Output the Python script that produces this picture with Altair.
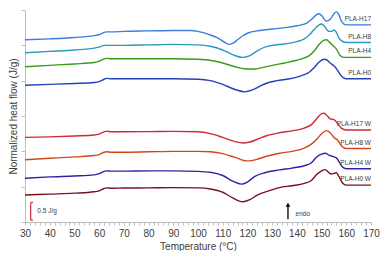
import altair as alt
import pandas as pd

# Heat-flow readings (arbitrary units, 38 units = 1 J/g) vs temperature (°C)
names = ["PLA-H17", "PLA-H8", "PLA-H4", "PLA-H0",
         "PLA-H17 W", "PLA-H8 W", "PLA-H4 W", "PLA-H0 W"]
colors = ["#3b7de0", "#2a9bbf", "#3a9a1a", "#2441b5",
          "#d02a3a", "#d4461c", "#3020a8", "#7a1020"]

t_h17 = [30, 40, 50, 58, 60, 62, 63, 65, 70, 80, 90, 97, 100, 104, 108, 111, 112.5, 114, 116, 118, 120, 125, 130, 135, 140, 144, 146, 148, 149, 150, 152, 153.5, 155, 156, 157, 158, 159, 160, 165, 170]
h_h17 = [196, 197, 198.5, 200.5, 201.5, 204, 204.5, 204.5, 205, 205.5, 206, 206, 205, 202, 198, 193, 191, 192, 196, 200, 203, 206, 207.5, 209, 211, 214, 218, 223, 224, 222, 216, 218, 224, 226, 223, 216, 213, 212, 212, 212]

t_h8 = [30, 40, 50, 58, 60, 62, 64, 70, 80, 90, 100, 105, 110, 114, 118, 121, 124, 127, 130, 135, 140, 143, 145, 147, 149, 150, 151, 153, 154, 155, 156, 157, 158, 160, 165, 170]
h_h8 = [182, 183.5, 185, 187, 188, 190, 190, 190, 190.5, 191, 190.5, 189, 185, 180, 177, 179, 184, 188, 190, 191.5, 194, 197, 201, 207, 212, 213, 211, 205, 205, 206.5, 204, 198, 195, 193, 193, 193]

t_h4 = [30, 40, 50, 58, 60, 62, 63, 65, 70, 80, 90, 100, 105, 110, 115, 120, 123, 126, 130, 135, 140, 143, 145, 147, 149, 151, 152, 153, 154.5, 156, 157.5, 159, 170]
h_h4 = [167, 168.5, 170, 171.5, 173, 175.5, 176, 175.5, 175.5, 175.5, 175.5, 175, 174, 171, 167, 164.5, 164.5, 166, 168.5, 171, 174, 176.5, 179, 184, 191, 195.5, 196, 194, 190, 186, 179, 177, 177]

t_h0 = [30, 40, 50, 58, 60, 62, 63, 65, 70, 80, 90, 100, 105, 110, 115, 119, 122, 125, 128, 132, 137, 142, 145, 147, 149, 151, 152, 153.5, 155, 156.5, 158, 160, 170]
h_h0 = [147, 148, 149, 150, 151, 153.5, 154.5, 154, 154, 154, 154, 153.5, 152, 148, 142.5, 140, 142, 146, 149.5, 152, 154, 157.5, 161, 166, 172, 175, 174.5, 171, 168, 163, 157, 154, 154]

t_h17w = [30, 40, 50, 58, 60, 62, 63, 65, 70, 80, 90, 100, 105, 110, 115, 118, 121, 124, 128, 133, 138, 143, 146, 148, 150, 151, 152, 153.5, 155, 156.5, 158, 160, 170]
h_h17w = [91, 91.5, 92.5, 93.5, 94.5, 97, 97.7, 97, 97, 97.2, 97.5, 97, 95, 91, 86.5, 85, 86, 89, 93, 96, 98, 101, 105, 111, 116.5, 117, 115, 111, 110, 106, 101, 99, 99]

t_h8w = [30, 40, 50, 58, 60, 62, 63, 65, 70, 80, 90, 100, 105, 110, 115, 120, 124, 128, 133, 138, 143, 146, 148, 150, 152, 153.5, 155, 156.5, 158, 160, 170]
h_h8w = [67, 68.5, 70, 71.5, 72.5, 75, 75.5, 75, 75, 75.5, 76, 76, 75.5, 73.5, 69.5, 65.7, 67.5, 71, 74, 76, 79.5, 84, 89, 95, 98.3, 96, 91, 88, 82, 79, 79]

t_h4w = [30, 40, 50, 58, 60, 62, 63, 65, 70, 80, 90, 100, 105, 110, 114, 117.5, 120, 123, 127, 133, 138, 143, 146, 148, 150, 151.5, 153, 154.5, 156, 157, 158.5, 160, 170]
h_h4w = [47, 48.5, 49.5, 50.7, 52, 54.5, 55, 54.7, 54.7, 55, 55, 54.5, 53.5, 50, 44, 40.7, 43, 49, 53, 56, 58, 60.5, 64, 70, 73, 74, 72, 70.5, 69, 65, 59, 57.3, 57.3]

t_h0w = [30, 40, 50, 58, 60, 62, 63, 65, 70, 80, 90, 100, 105, 110, 114, 118, 121, 124, 128, 133, 138, 143, 146, 148, 150, 151.5, 153, 154, 156, 157, 158.5, 160, 170]
h_h0w = [29, 30, 31, 32.5, 33.5, 36, 36.7, 36.3, 36.5, 36.7, 37, 36.7, 35.5, 32, 26, 21.7, 24, 29, 33, 37, 39, 41.5, 45, 51, 55, 56.3, 53, 51.7, 53, 49, 42, 39.7, 39.7]

temps = [t_h17, t_h8, t_h4, t_h0, t_h17w, t_h8w, t_h4w, t_h0w]
flows = [h_h17, h_h8, h_h4, h_h0, h_h17w, h_h8w, h_h4w, h_h0w]

rows = []
for n, ts, hs in zip(names, temps, flows):
    for t, h in zip(ts, hs):
        rows.append({"sample": n, "T": t, "h": h})
df = pd.DataFrame(rows)

labels = pd.DataFrame({"sample": names,
                       "T": [ts[-1] for ts in temps],
                       "h": [hs[-1] for hs in flows]})

FONT = "Liberation Sans"
TXT = "#404040"
AX = "#bfbfbf"

x_scale = alt.Scale(domain=[30, 170], nice=False)
y_scale = alt.Scale(domain=[0, 228], nice=False)

x_axis = alt.Axis(values=list(range(30, 171, 2)),
                  labelExpr="datum.value % 10 === 0 ? datum.label : ''",
                  labelOverlap=False,
                  title="Temperature (°C)", grid=False, tickSize=3,
                  tickColor=AX, domainColor=AX, labelColor=TXT, titleColor=TXT,
                  labelFont=FONT, titleFont=FONT, labelFontSize=10, titleFontSize=10,
                  titleFontWeight="normal", labelFlush=False, labelPadding=3, titlePadding=3)
y_axis = alt.Axis(values=[0, 38, 76, 114, 152, 190, 228], labels=False,
                  title="Normalized heat flow (J/g)", grid=False, tickSize=4,
                  tickColor=AX, domainColor=AX, titleColor=TXT, titleFont=FONT,
                  titleFontSize=10, titleFontWeight="normal", titlePadding=2)


def X(field="T"):
    return alt.X(f"{field}:Q", scale=x_scale, axis=x_axis)


def Y(field="h"):
    return alt.Y(f"{field}:Q", scale=y_scale, axis=y_axis)


lines = alt.Chart(df).mark_line(strokeWidth=1.4, interpolate="monotone").encode(
    x=X(), y=Y(),
    color=alt.Color("sample:N", scale=alt.Scale(domain=names, range=colors), legend=None),
    detail="sample:N",
)

text = alt.Chart(labels).mark_text(align="right", baseline="middle", dy=-6,
                                   fontSize=6.5, font=FONT, color=TXT).encode(
    x=X(), y=Y(), text="sample:N")

# scale bar (0.5 J/g = 19 units)
bar_df = pd.DataFrame({"T": [32.3], "h": [2], "h2": [21]})
caps_df = pd.DataFrame({"T": [32.3, 32.3], "T2": [33.2, 33.2], "h": [2, 21]})
bar = alt.Chart(bar_df).mark_rule(color="#d02a3a", strokeWidth=1.2).encode(
    x=X(), y=Y(), y2="h2:Q")
caps = alt.Chart(caps_df).mark_rule(color="#d02a3a", strokeWidth=1.2).encode(
    x=X(), x2="T2:Q", y=Y())
bar_txt = alt.Chart(pd.DataFrame({"T": [35], "h": [11.5], "t": ["0.5 J/g"]})).mark_text(
    align="left", baseline="middle", fontSize=6.5, font=FONT, color=TXT).encode(
    x=X(), y=Y(), text="t:N")

# endo arrow
arr = alt.Chart(pd.DataFrame({"T": [136.4], "h": [3], "h2": [18]})).mark_rule(
    color="black", strokeWidth=1.3).encode(x=X(), y=Y(), y2="h2:Q")
head = alt.Chart(pd.DataFrame({"T": [136.4], "h": [18.5]})).mark_point(
    shape="triangle-up", filled=True, color="black", size=22, opacity=1).encode(
    x=X(), y=Y())
endo = alt.Chart(pd.DataFrame({"T": [139.5], "h": [9], "t": ["endo"]})).mark_text(
    align="left", baseline="middle", fontSize=6.5, font=FONT, color=TXT).encode(
    x=X(), y=Y(), text="t:N")

chart = alt.layer(lines, text, bar, caps, bar_txt, arr, head, endo).properties(
    width=374, height=243,
    autosize=alt.AutoSizeParams(type="fit", contains="padding"),
    padding={"left": 0, "top": 1, "right": 2, "bottom": 0},
).configure_view(stroke=None).configure_axis(labelOverlap=False)

chart.save("out.html", embed_options={"renderer": "svg", "actions": False})
